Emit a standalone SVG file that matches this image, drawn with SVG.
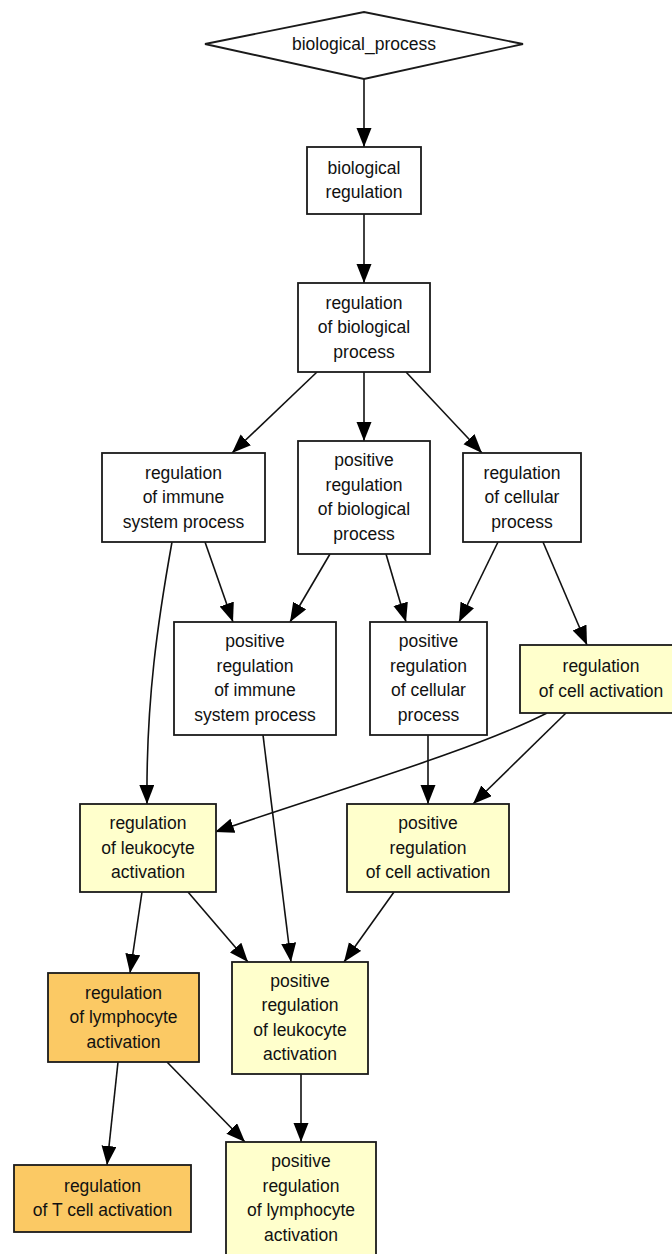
<svg xmlns="http://www.w3.org/2000/svg" width="672" height="1254" viewBox="0 0 672 1254">
<style>
.box{stroke:#1a1a1a;stroke-width:1.8}
.w{fill:#ffffff}
.y{fill:#ffffcc}
.o{fill:#fbc964}
.t{font-family:"Liberation Sans",Arial,sans-serif;font-size:17.5px;fill:#111;text-anchor:middle}
.e{fill:none;stroke:#111;stroke-width:1.6;marker-end:url(#ah)}
</style>
<defs>
<marker id="ah" markerUnits="userSpaceOnUse" markerWidth="20" markerHeight="16" refX="19" refY="7.5" orient="auto">
<path d="M0,0 L19,7.5 L0,15 z" fill="#000"/>
</marker>
</defs>
<rect width="672" height="1254" fill="#ffffff"/>
<g id="connectors">
<line class="e" x1="364" y1="79" x2="364" y2="147"/>
<line class="e" x1="364" y1="214" x2="364" y2="283"/>
<line class="e" x1="317" y1="372" x2="232" y2="453"/>
<line class="e" x1="364" y1="372" x2="364" y2="441"/>
<line class="e" x1="406" y1="372" x2="482" y2="453"/>
<line class="e" x1="205" y1="542" x2="233" y2="622"/>
<path class="e" d="M172,542 C158,620 146,700 147,804"/>
<line class="e" x1="330" y1="554" x2="290" y2="622"/>
<line class="e" x1="386" y1="554" x2="406" y2="622"/>
<line class="e" x1="498" y1="542" x2="459" y2="622"/>
<line class="e" x1="543" y1="542" x2="587" y2="645"/>
<path class="e" d="M547,713 C470,752 330,792 215,832"/>
<line class="e" x1="566" y1="713" x2="473" y2="804"/>
<line class="e" x1="428" y1="735" x2="428" y2="804"/>
<line class="e" x1="263" y1="735" x2="291" y2="962"/>
<line class="e" x1="142" y1="892" x2="130" y2="973"/>
<line class="e" x1="188" y1="892" x2="248" y2="962"/>
<line class="e" x1="394" y1="892" x2="344" y2="962"/>
<line class="e" x1="118" y1="1062" x2="107" y2="1165"/>
<line class="e" x1="167" y1="1062" x2="245" y2="1142"/>
<line class="e" x1="301" y1="1074" x2="301" y2="1142"/>
</g>
<g id="n_bp">
<polygon class="box w" points="205,44 364,12 523,44 364,79"/>
<text class="t" x="364" y="50">biological_process</text>
</g>
<g id="n_br">
<rect class="box w" x="307" y="147" width="114" height="67"/>
<text class="t"><tspan x="364" y="174">biological</tspan><tspan x="364" y="198">regulation</tspan></text>
</g>
<g id="n_rbp">
<rect class="box w" x="298" y="283" width="132" height="89"/>
<text class="t"><tspan x="364" y="308.5">regulation</tspan><tspan x="364" y="333">of biological</tspan><tspan x="364" y="357.5">process</tspan></text>
</g>
<g id="n_risp">
<rect class="box w" x="102" y="453" width="163" height="89"/>
<text class="t"><tspan x="183.5" y="478.5">regulation</tspan><tspan x="183.5" y="503">of immune</tspan><tspan x="183.5" y="527.5">system process</tspan></text>
</g>
<g id="n_prbp">
<rect class="box w" x="298" y="441" width="132" height="113"/>
<text class="t"><tspan x="364" y="466.25">positive</tspan><tspan x="364" y="490.75">regulation</tspan><tspan x="364" y="515.25">of biological</tspan><tspan x="364" y="539.75">process</tspan></text>
</g>
<g id="n_rcp">
<rect class="box w" x="463" y="453" width="118" height="89"/>
<text class="t"><tspan x="522" y="478.5">regulation</tspan><tspan x="522" y="503">of cellular</tspan><tspan x="522" y="527.5">process</tspan></text>
</g>
<g id="n_prisp">
<rect class="box w" x="174" y="622" width="162" height="113"/>
<text class="t"><tspan x="255" y="647.25">positive</tspan><tspan x="255" y="671.75">regulation</tspan><tspan x="255" y="696.25">of immune</tspan><tspan x="255" y="720.75">system process</tspan></text>
</g>
<g id="n_prcp">
<rect class="box w" x="370" y="622" width="117" height="113"/>
<text class="t"><tspan x="428.5" y="647.25">positive</tspan><tspan x="428.5" y="671.75">regulation</tspan><tspan x="428.5" y="696.25">of cellular</tspan><tspan x="428.5" y="720.75">process</tspan></text>
</g>
<g id="n_rca">
<rect class="box y" x="520" y="645" width="162" height="68"/>
<text class="t"><tspan x="601" y="672.25">regulation</tspan><tspan x="601" y="696.75">of cell activation</tspan></text>
</g>
<g id="n_rla">
<rect class="box y" x="80" y="804" width="136" height="88"/>
<text class="t"><tspan x="148" y="829">regulation</tspan><tspan x="148" y="853.5">of leukocyte</tspan><tspan x="148" y="878">activation</tspan></text>
</g>
<g id="n_prca">
<rect class="box y" x="347" y="804" width="162" height="88"/>
<text class="t"><tspan x="428" y="829">positive</tspan><tspan x="428" y="853.5">regulation</tspan><tspan x="428" y="878">of cell activation</tspan></text>
</g>
<g id="n_rlya">
<rect class="box o" x="48" y="973" width="151" height="89"/>
<text class="t"><tspan x="123.5" y="998.5">regulation</tspan><tspan x="123.5" y="1023">of lymphocyte</tspan><tspan x="123.5" y="1047.5">activation</tspan></text>
</g>
<g id="n_prla">
<rect class="box y" x="232" y="962" width="136" height="112"/>
<text class="t"><tspan x="300" y="986.75">positive</tspan><tspan x="300" y="1011.25">regulation</tspan><tspan x="300" y="1035.75">of leukocyte</tspan><tspan x="300" y="1060.25">activation</tspan></text>
</g>
<g id="n_rtca">
<rect class="box o" x="14" y="1165" width="177" height="67"/>
<text class="t"><tspan x="102.5" y="1191.75">regulation</tspan><tspan x="102.5" y="1216.25">of T cell activation</tspan></text>
</g>
<g id="n_prlya">
<rect class="box y" x="226" y="1142" width="150" height="113"/>
<text class="t"><tspan x="301" y="1167.25">positive</tspan><tspan x="301" y="1191.75">regulation</tspan><tspan x="301" y="1216.25">of lymphocyte</tspan><tspan x="301" y="1240.75">activation</tspan></text>
</g>
</svg>
